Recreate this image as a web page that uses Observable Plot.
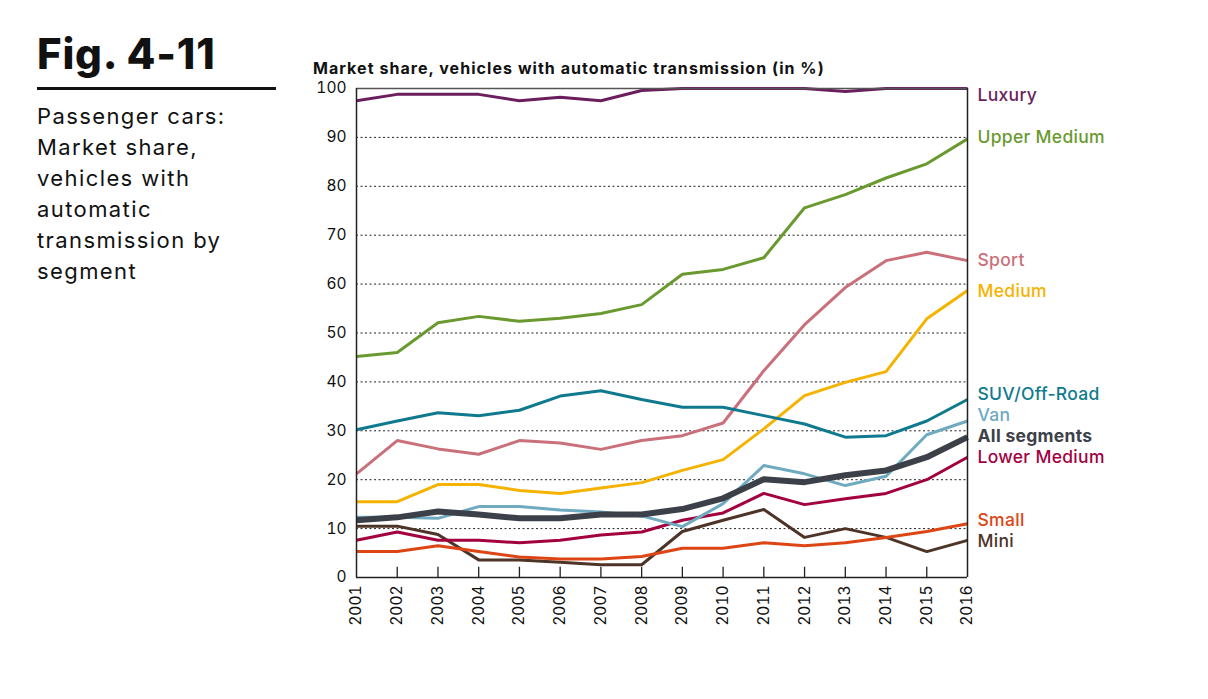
<!DOCTYPE html>
<html>
<head>
<meta charset="utf-8">
<script src="https://cdn.jsdelivr.net/npm/d3@7"></script>
<script src="https://cdn.jsdelivr.net/npm/@observablehq/plot@0.6"></script>
<style>
  html, body { margin: 0; padding: 0; background: #fff; }
  body { width: 1208px; height: 699px; position: relative; overflow: hidden; font-family: "Inter", "Noto Sans", sans-serif; color: #111; }
  #fig { position: absolute; left: 37px; top: 33px; font-size: 42px; font-weight: 800; letter-spacing: 0.8px; line-height: 1; }
  #rule { position: absolute; left: 37px; top: 87px; width: 239px; height: 3px; background: #111; }
  #sub { position: absolute; left: 37px; top: 101px; font-size: 22px; line-height: 31px; font-weight: 400; letter-spacing: 1.4px; }
  #ctitle { position: absolute; left: 313px; top: 58px; font-size: 16px; font-weight: 700; letter-spacing: 1.05px; white-space: nowrap; }
  #chart { position: absolute; left: 300px; top: 78px; }
  #chart g[aria-label="text"] text { letter-spacing: 0.3px; }
</style>
</head>
<body>
<div id="fig">Fig. 4-11</div>
<div id="rule"></div>
<div id="sub">Passenger cars:<br>Market share,<br>vehicles with<br>automatic<br>transmission by<br>segment</div>
<div id="ctitle">Market share, vehicles with automatic transmission (in %)</div>
<div id="chart"></div>
<script>
const years = [2001,2002,2003,2004,2005,2006,2007,2008,2009,2010,2011,2012,2013,2014,2015,2016];

const luxury      = [97.5,98.8,98.8,98.8,97.5,98.2,97.5,99.6,100,100,100,100,99.4,100,100,100];
const upperMedium = [45.2,46.0,52.1,53.4,52.4,53.0,54.0,55.8,62.0,63.0,65.4,75.6,78.3,81.7,84.6,89.7];
const sport       = [21.2,28.0,26.3,25.2,28.0,27.5,26.2,28.0,29.0,31.6,42.3,51.7,59.3,64.8,66.5,64.8];
const medium      = [15.5,15.5,19.0,19.0,17.8,17.2,18.3,19.4,21.9,24.1,30.4,37.2,39.9,42.1,52.9,58.7];
const suv         = [30.2,32.0,33.7,33.1,34.2,37.1,38.2,36.4,34.8,34.8,33.1,31.4,28.7,29.0,32.0,36.4];
const van         = [12.3,12.3,12.1,14.5,14.5,13.8,13.4,12.6,10.4,15.1,22.9,21.2,18.8,20.7,29.2,32.0];
const allSegments = [11.7,12.3,13.5,12.9,12.1,12.1,12.9,12.9,14.0,16.2,20.1,19.5,20.9,21.9,24.6,28.7];
const lowerMedium = [7.6,9.3,7.6,7.6,7.1,7.6,8.7,9.3,11.7,13.2,17.2,14.9,16.1,17.2,20.0,24.6];
const small       = [5.3,5.3,6.5,5.3,4.2,3.8,3.8,4.3,6.0,6.0,7.1,6.5,7.1,8.2,9.4,11.0];
const mini        = [10.5,10.5,8.8,3.6,3.6,3.1,2.6,2.6,9.4,11.7,13.9,8.2,10.0,8.2,5.3,7.6];

const segmentNames = ["Luxury","Upper Medium","Sport","Medium","SUV/Off-Road","Van","All segments","Lower Medium","Small","Mini"];
const segmentValues = [luxury, upperMedium, sport, medium, suv, van, allSegments, lowerMedium, small, mini];
const segmentColors = ["#6b1e5e","#6a9a2f","#c9707a","#f5b300","#0f7a8f","#6faac0","#3c4048","#a3003f","#dd4515","#4d3427"];
const labelPos = [98.6, 90.0, 64.8, 58.5, 37.4, 33.1, 28.8, 24.5, 11.7, 7.4];
const yTicks = [0,10,20,30,40,50,60,70,80,90,100];
const gridTicks = [10,20,30,40,50,60,70,80,90];

const rows = [];
segmentNames.forEach((name, i) => {
  years.forEach((yr, j) => rows.push({segment: name, year: yr, value: segmentValues[i][j]}));
});
const labels = segmentNames.map((name, i) => ({segment: name, year: 2016, value: labelPos[i]}));

const order = ["Mini","Small","Lower Medium","Sport","Medium","Upper Medium","Luxury","SUV/Off-Road","Van","All segments"];
const colorOf = Object.fromEntries(segmentNames.map((n, i) => [n, segmentColors[i]]));

const lineMarks = order.map(name => Plot.line(rows.filter(d => d.segment === name), {
  x: "year", y: "value",
  stroke: colorOf[name],
  strokeWidth: name === "All segments" ? 6 : 3,
  strokeLinejoin: "round", strokeLinecap: "butt"
}));

const chart = Plot.plot({
  width: 908,
  height: 570,
  marginLeft: 56,
  marginRight: 241,
  marginTop: 10,
  marginBottom: 71,
  style: {fontFamily: "Inter, 'Noto Sans', sans-serif", color: "#111", background: "transparent"},
  x: {domain: [2001, 2016], label: null, axis: null},
  y: {domain: [0, 100], label: null, axis: null},
  marks: [
    Plot.ruleY(gridTicks, {stroke: "#222", strokeWidth: 1, strokeDasharray: "2,2.5"}),
    Plot.ruleX(years.slice(1, -1), {x: d => d, y1: 0, y2: 2.1, stroke: "#222", strokeWidth: 1.3}),
    ...lineMarks,
    Plot.ruleY([0], {stroke: "#222", strokeWidth: 1.5}),
    Plot.ruleY([100], {stroke: "#555", strokeWidth: 1.5}),
    Plot.ruleX([2001], {stroke: "#222", strokeWidth: 1.5}),
    Plot.ruleX([2016], {stroke: "#222", strokeWidth: 1.5}),
    Plot.axisY(yTicks, {anchor: "left", tickSize: 0, tickPadding: 10, fontSize: 15.5, tickFormat: d => String(d), fill: "#111"}),
    Plot.axisX(years, {anchor: "bottom", tickSize: 0, tickPadding: 8, tickRotate: -90, fontSize: 15.5, tickFormat: d => String(d), fill: "#111"}),
    Plot.text(labels.filter(d => d.segment !== "All segments"), {
      x: "year", y: "value", text: "segment",
      fill: d => colorOf[d.segment],
      dx: 10, textAnchor: "start", fontSize: 17.5, fontWeight: 500
    }),
    Plot.text(labels.filter(d => d.segment === "All segments"), {
      x: "year", y: "value", text: "segment",
      fill: d => colorOf[d.segment],
      dx: 10, textAnchor: "start", fontSize: 17.5, fontWeight: 700
    })
  ]
});
document.getElementById("chart").appendChild(chart);
</script>
</body>
</html>
